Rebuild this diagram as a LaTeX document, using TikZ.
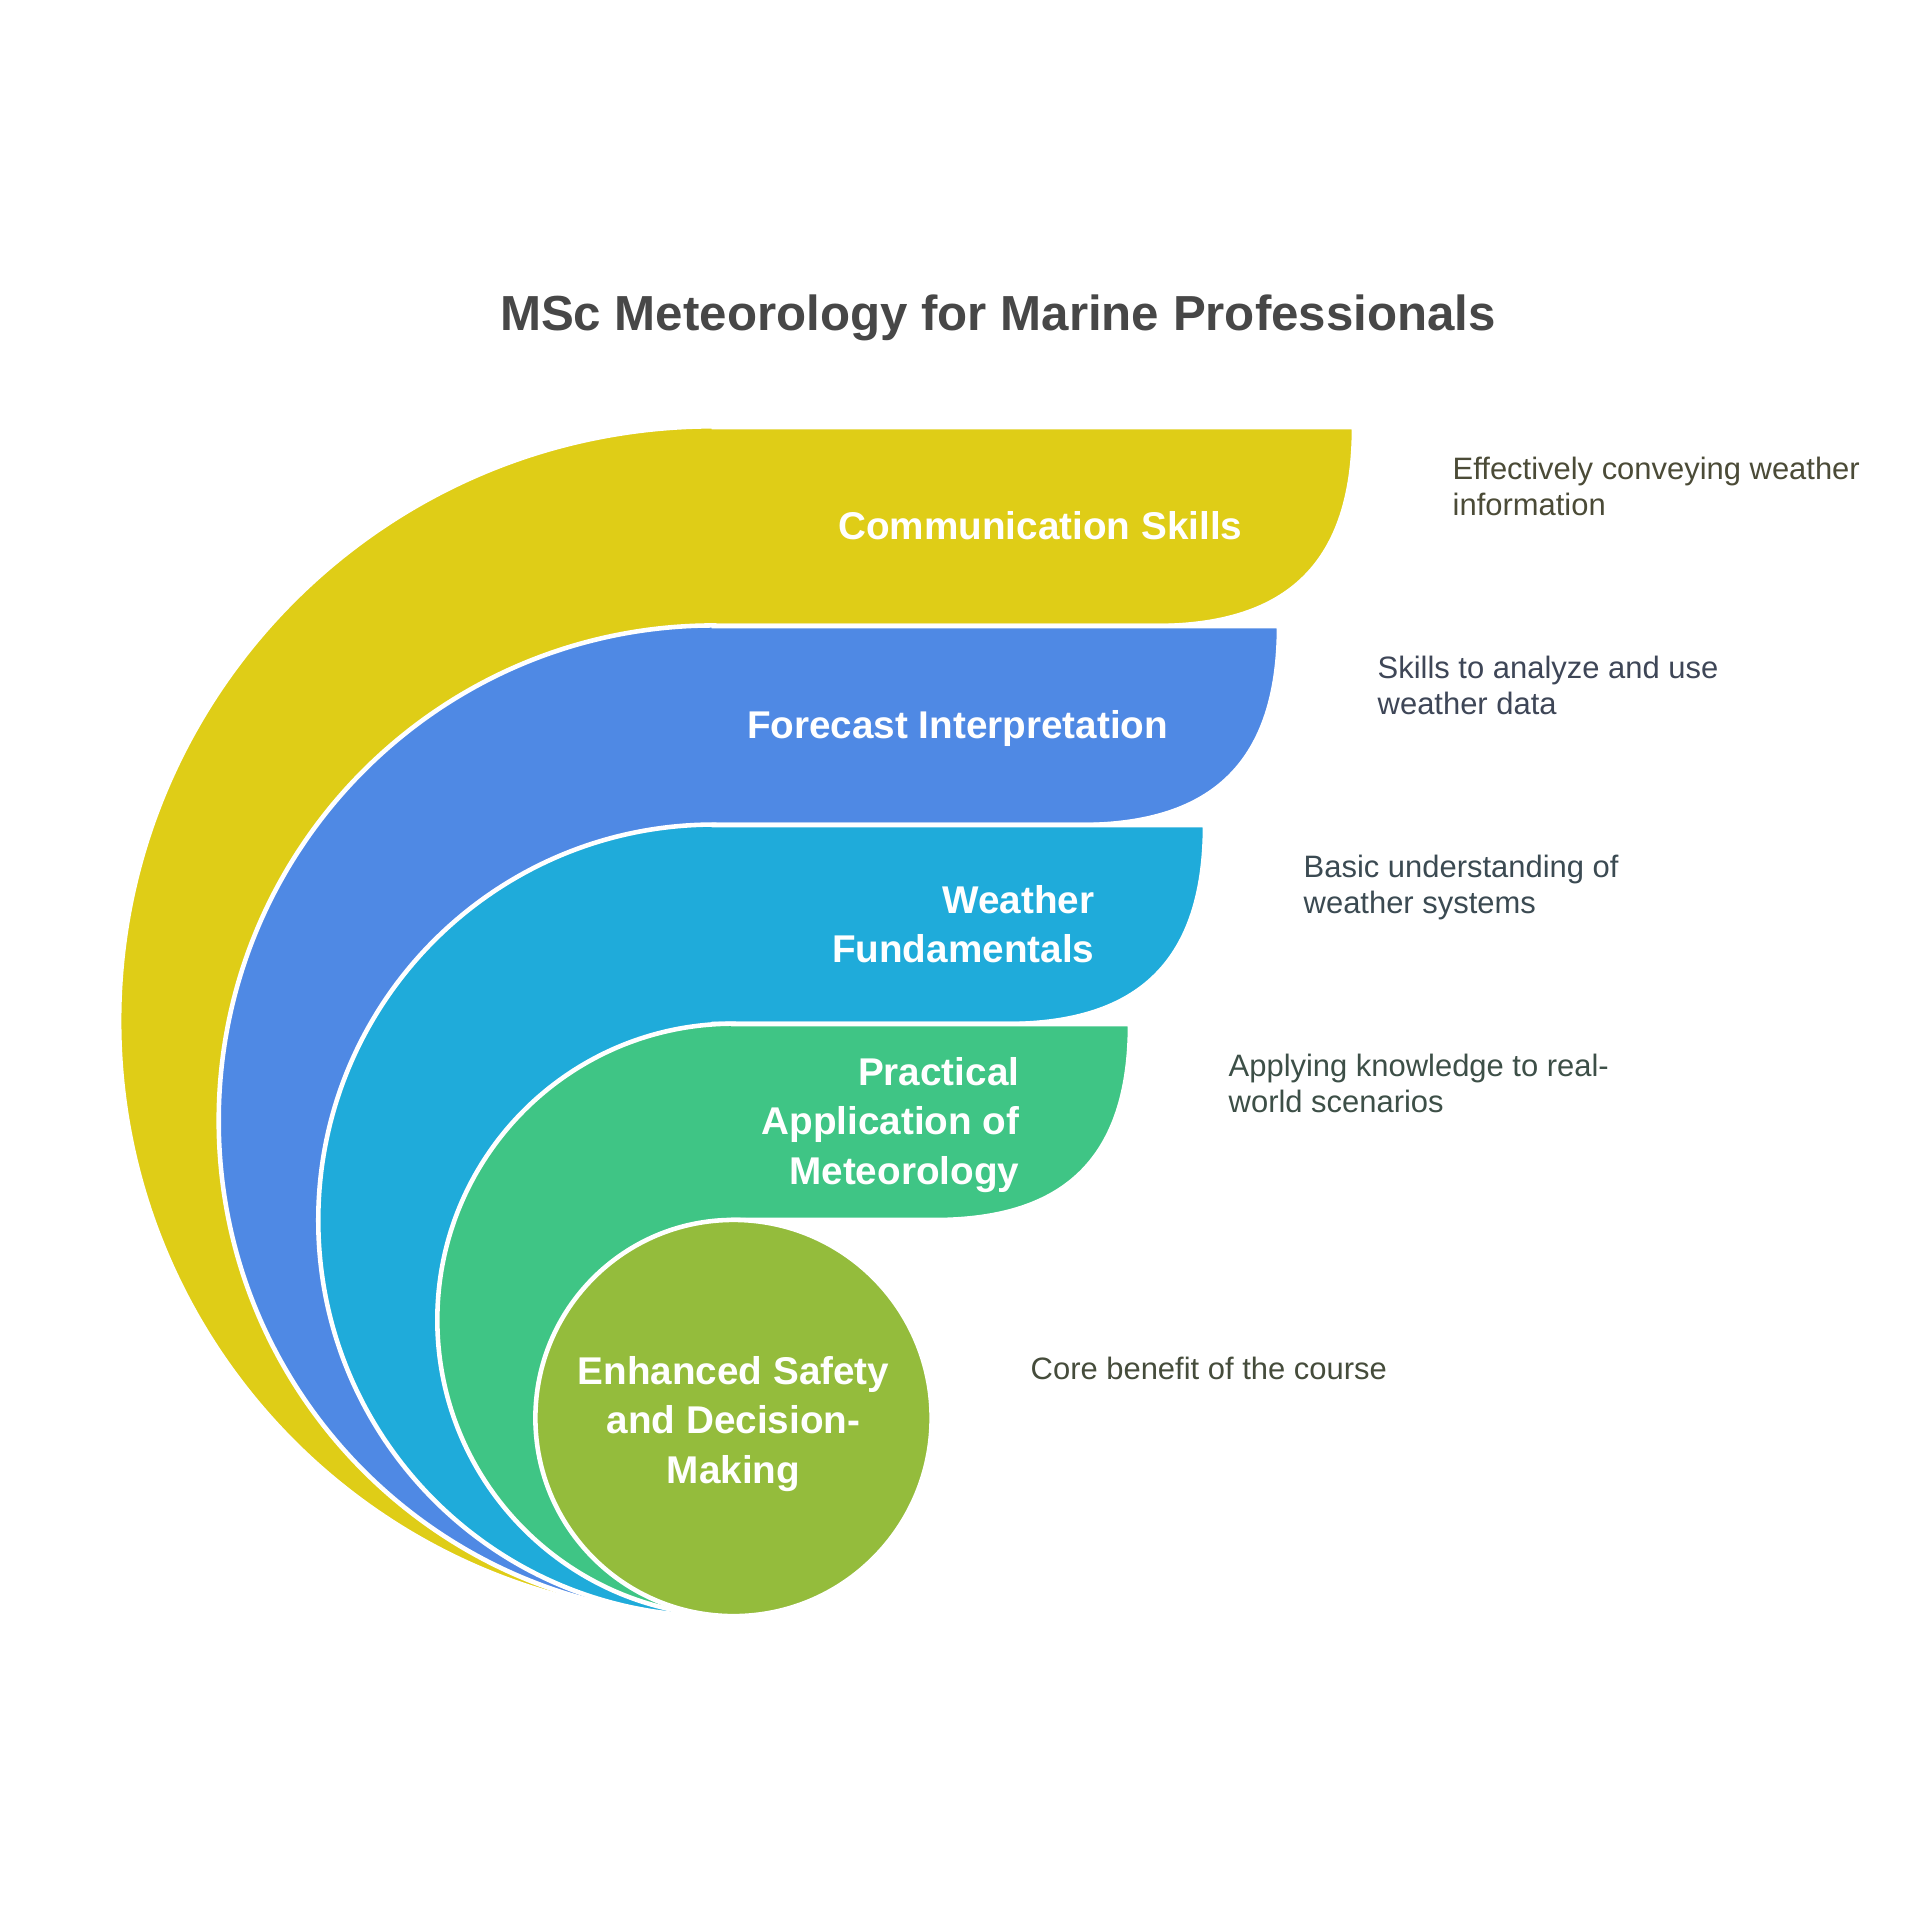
\documentclass[tikz,border=0pt]{standalone}
\usepackage{fontspec}
\setmainfont{Liberation Sans}
\definecolor{cyel}{HTML}{DFCD17}
\definecolor{cblue}{HTML}{4F89E4}
\definecolor{ccyan}{HTML}{1FABDA}
\definecolor{cgreen}{HTML}{3FC585}
\definecolor{clime}{HTML}{94BC3C}
\definecolor{ctitle}{HTML}{474747}
\definecolor{cdone}{HTML}{4B4B37}
\definecolor{cdtwo}{HTML}{3E4657}
\definecolor{cdthree}{HTML}{3B4A52}
\definecolor{cdfour}{HTML}{3D4F47}
\definecolor{cdfive}{HTML}{454C3B}
\begin{document}
\begin{tikzpicture}[x=0.01cm, y=-0.01cm,
        layer/.style = {draw=white, line width=1.3pt},
        lbl/.style = {text=white, font=\fontsize{11}{14.1}\selectfont\bfseries, align=right, anchor=east, inner sep=0pt},
        desc/.style = {font=\fontsize{8.8}{10.45}\selectfont, align=left, anchor=north west, inner sep=0pt}]
        \useasboundingbox (0,0) rectangle (1920,1920);
        \fill[white] (0,0) rectangle (1920,1920);

        \node[font=\fontsize{14}{17}\selectfont\bfseries, text=ctitle, anchor=base] (title) at (998,330) {MSc Meteorology for Marine Professionals};

        \filldraw[layer, fill=cyel] (714,427) -- (1354,427) .. controls (1354,562) and (1290,626) .. (1155,626)
            -- (714,626) -- (714,1616) arc[start angle=270, end angle=90, radius=5.945cm] -- cycle;
        \filldraw[layer, fill=cblue] (714,626) -- (1279,626) .. controls (1279,761) and (1215,825) .. (1080,825)
            -- (714,825) -- (714,1616) arc[start angle=270, end angle=90, radius=4.95cm] -- cycle;
        \filldraw[layer, fill=ccyan] (714,825) -- (1205,825) .. controls (1205,960) and (1141,1024) .. (1006,1024)
            -- (714,1024) -- (714,1616) arc[start angle=270, end angle=90, radius=3.955cm] -- cycle;
        \filldraw[layer, fill=cgreen] (733.5,1024) -- (1130,1024) .. controls (1130,1157) and (1067,1220) .. (934,1220)
            -- (733.5,1220) -- (733.5,1616) arc[start angle=270, end angle=90, radius=2.96cm] -- cycle;
        \filldraw[layer, fill=clime] (733.5,1418) circle[radius=1.98cm];

        \node[lbl] (comm) at (1243,526) {Communication Skills};
        \node[lbl] (fore) at (1169,728) {Forecast Interpretation};
        \node[lbl] (wfun) at (1095,924) {Weather\\Fundamentals};
        \node[lbl] (prac) at (1020,1125) {Practical\\Application of\\Meteorology};
        \node[lbl, align=center, anchor=center] (core) at (733.5,1424) {Enhanced Safety\\and Decision-\\Making};

        \node[desc, text=cdone] (d1) at (1452,456) {Effectively conveying weather\\information};
        \node[desc, text=cdtwo] (d2) at (1377,655) {Skills to analyze and use\\weather data};
        \node[desc, text=cdthree] (d3) at (1303,854) {Basic understanding of\\weather systems};
        \node[desc, text=cdfour] (d4) at (1228,1053) {Applying knowledge to real-\\world scenarios};
        \node[desc, text=cdfive] (d5) at (1030,1356) {Core benefit of the course};
\end{tikzpicture}
\end{document}
